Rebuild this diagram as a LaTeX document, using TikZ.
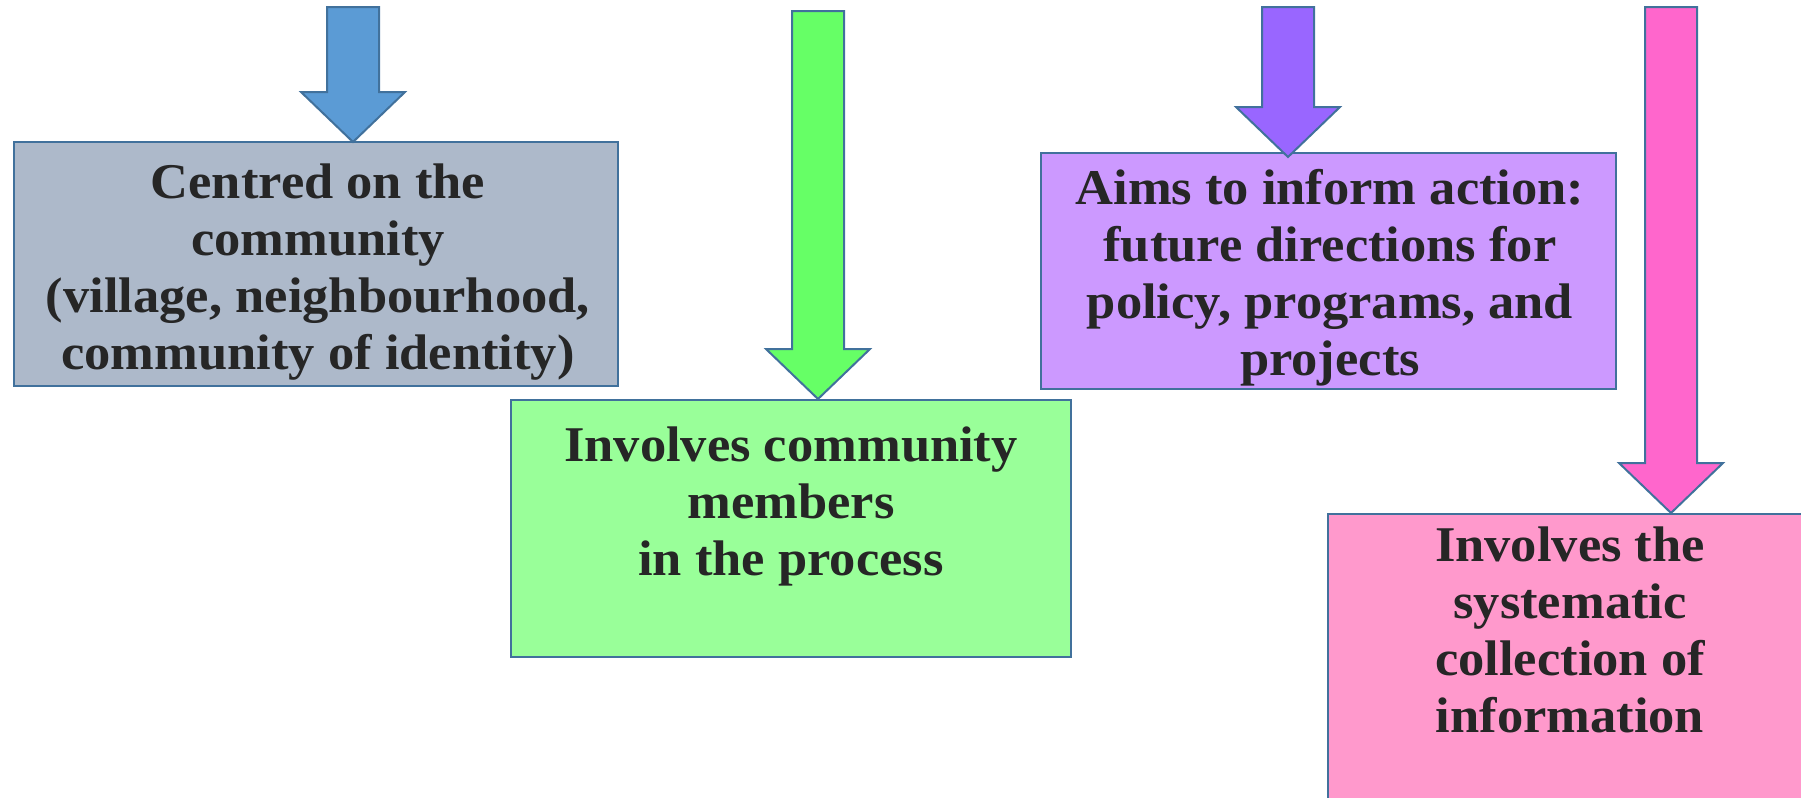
\documentclass[tikz,border=0pt]{standalone}
\usepackage{fontspec}
\setmainfont{Liberation Serif}[FakeStretch=1.05]
\definecolor{edgeC}{HTML}{41719C}
\definecolor{txtC}{HTML}{262626}
\definecolor{blueA}{HTML}{5B9BD5}
\definecolor{grayB}{HTML}{ADB9CA}
\definecolor{greenA}{HTML}{66FF66}
\definecolor{greenB}{HTML}{99FF99}
\definecolor{purpA}{HTML}{9966FF}
\definecolor{purpB}{HTML}{CC99FF}
\definecolor{pinkA}{HTML}{FF66CC}
\definecolor{pinkB}{HTML}{FF99CC}
\tikzset{
  boxshape/.style={draw=edgeC, line width=1pt, rectangle, inner sep=0pt},
  blockarr/.style={draw=edgeC, line width=1pt, line join=miter},
  label/.style={anchor=north, inner sep=0pt, align=center, text=txtC,
    font=\fontsize{25}{28.5}\selectfont\bfseries}
}
\newcommand\blockarrow[3]{%
  \draw[blockarr,#1] (#2) -- ++(-52,-50) -- ++(26,0) -- ++(0,-#3) -- ++(52,0) -- ++(0,#3) -- ++(26,0) -- cycle;}
\begin{document}
\begin{tikzpicture}[x=0.5pt,y=-0.5pt]
\useasboundingbox (0,0) rectangle (1801,798);
\clip (0,0) rectangle (1801,798);
% boxes
\node[boxshape, fill=grayB, minimum width=302pt, minimum height=122pt] (boxA) at (316,264) {};
\node[boxshape, fill=greenB, minimum width=280pt, minimum height=128.5pt] (boxB) at (791,528.5) {};
\node[boxshape, fill=purpB, minimum width=287.5pt, minimum height=118pt] (boxC) at (1328.5,271) {};
\node[boxshape, fill=pinkB, minimum width=242pt, minimum height=158pt] (boxD) at (1570,672) {};
% texts
\node[label] (tA) at (318,163) {Centred on the\\community\\(village, neighbourhood,\\community of identity)};
\node[label] (tB) at (791,426) {Involves community\\members\\in the process};
\node[label] (tC) at (1330,169) {Aims to inform action:\\future directions for\\policy, programs, and\\projects};
\node[label] (tD) at (1570,526) {Involves the\\systematic\\collection of\\information};
% arrow tips on box tops
\coordinate (tipA) at (353,142);
\coordinate (tipB) at (818,399);
\coordinate (tipC) at (1288,157);
\coordinate (tipD) at (1671,513);
\blockarrow{fill=blueA}{tipA}{85}
\blockarrow{fill=greenA}{tipB}{338}
\blockarrow{fill=purpA}{tipC}{100}
\blockarrow{fill=pinkA}{tipD}{456}
\end{tikzpicture}
\end{document}
